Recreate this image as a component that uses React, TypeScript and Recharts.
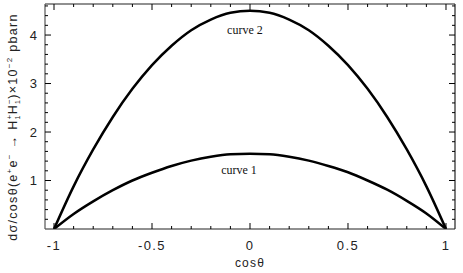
import React from 'react';
import { LineChart, Line, XAxis, YAxis, ReferenceDot } from 'recharts';

const cosTheta = [-1, -0.9, -0.8, -0.7, -0.6, -0.5, -0.4, -0.3, -0.2, -0.1, 0, 0.1, 0.2, 0.3, 0.4, 0.5, 0.6, 0.7, 0.8, 0.9, 1];
const curve1 = [0, 0.31, 0.57, 0.8, 1.0, 1.16, 1.3, 1.41, 1.49, 1.54, 1.55, 1.54, 1.49, 1.41, 1.3, 1.17, 1.0, 0.81, 0.58, 0.32, 0];
const curve2 = [0, 0.88, 1.64, 2.31, 2.89, 3.38, 3.78, 4.1, 4.32, 4.46, 4.5, 4.46, 4.32, 4.1, 3.78, 3.38, 2.89, 2.31, 1.64, 0.88, 0];

const xMajor = [-1, -0.5, 0, 0.5, 1];
const xTickLabels = ['-1', '-0.5', '0', '0.5', '1'];
const xTickValues = [-1, -0.9, -0.8, -0.7, -0.6, -0.5, -0.4, -0.3, -0.2, -0.1, 0, 0.1, 0.2, 0.3, 0.4, 0.5, 0.6, 0.7, 0.8, 0.9, 1];
const yMajor = [1, 2, 3, 4];
const yTickLabels = ['1', '2', '3', '4'];
const yTickValues = [0.2, 0.4, 0.6, 0.8, 1, 1.2, 1.4, 1.6, 1.8, 2, 2.2, 2.4, 2.6, 2.8, 3, 3.2, 3.4, 3.6, 3.8, 4, 4.2, 4.4, 4.6];

const curveLabels = ['curve 1', 'curve 2'];
const curveLabelX = [-0.056, -0.026];
const curveLabelY = [1.22, 4.1];

const data = cosTheta.map((c, i) => ({ c, curve1: curve1[i], curve2: curve2[i] }));

const majorIndex = (v: number, majors: number[]) => majors.findIndex((m) => Math.abs(m - v) < 1e-6);

const MAJOR = 6;
const MINOR = 3;
const tickFont = "'Liberation Sans', Arial, sans-serif";

const BottomTick = (props: any) => {
  const { x, y, payload } = props;
  const idx = majorIndex(payload.value, xMajor);
  const len = idx >= 0 ? MAJOR : MINOR;
  return (
    <g>
      <line x1={x} x2={x} y1={y} y2={y - len} stroke="#000" strokeWidth={1} />
      {idx >= 0 && (
        <text x={x} y={y + 21} textAnchor="middle" fontSize={13} fontFamily={tickFont} fill="#222" letterSpacing={1.4}>
          {xTickLabels[idx]}
        </text>
      )}
    </g>
  );
};

const TopTick = (props: any) => {
  const { x, y, payload } = props;
  const idx = majorIndex(payload.value, xMajor);
  const len = idx >= 0 ? MAJOR : MINOR;
  return <line x1={x} x2={x} y1={y} y2={y + len} stroke="#000" strokeWidth={1} />;
};

const LeftTick = (props: any) => {
  const { x, y, payload } = props;
  const idx = majorIndex(payload.value, yMajor);
  const len = idx >= 0 ? MAJOR : MINOR;
  return (
    <g>
      <line x1={x} x2={x + len} y1={y} y2={y} stroke="#000" strokeWidth={1} />
      {idx >= 0 && (
        <text x={x - 8} y={y + 4.5} textAnchor="end" fontSize={13} fontFamily={tickFont} fill="#222">
          {yTickLabels[idx]}
        </text>
      )}
    </g>
  );
};

const RightTick = (props: any) => {
  const { x, y, payload } = props;
  const idx = majorIndex(payload.value, yMajor);
  const len = idx >= 0 ? MAJOR : MINOR;
  return <line x1={x} x2={x - len} y1={y} y2={y} stroke="#000" strokeWidth={1} />;
};

const YLabel = () => {
  const cx = 17;
  const cy = 127;
  return (
    <text
      x={cx}
      y={cy}
      transform={`rotate(-90 ${cx} ${cy})`}
      textAnchor="middle"
      fontSize={12.5}
      fontFamily={tickFont}
      fill="#222"
      letterSpacing={1.3}
    >
      <tspan>dσ/cosθ(e</tspan>
      <tspan dy={-5} fontSize={8}>+</tspan>
      <tspan dy={5}>e</tspan>
      <tspan dy={-5} fontSize={8}>−</tspan>
      <tspan dy={5}> → H</tspan>
      <tspan dy={-5} fontSize={8}>+</tspan>
      <tspan dx={-6} dy={8} fontSize={7}>1</tspan>
      <tspan dy={-3}>H</tspan>
      <tspan dy={-5} fontSize={8}>−</tspan>
      <tspan dx={-6} dy={8} fontSize={7}>1</tspan>
      <tspan dy={-3}>)×10</tspan>
      <tspan dy={-5} fontSize={8}>−2</tspan>
      <tspan dy={5}> pbarn</tspan>
    </text>
  );
};

export default function App() {
  return (
    <div style={{ position: 'absolute', left: 0, top: 0, width: 463, height: 273, background: '#fff' }}>
      <LineChart width={463} height={273} data={data} margin={{ top: 0, right: 0, bottom: 0, left: 0 }}>
        <XAxis
          xAxisId="bottom"
          dataKey="c"
          type="number"
          domain={[-1.046, 1.046]}
          ticks={xTickValues}
          interval={0}
          orientation="bottom"
          height={44}
          tickSize={0}
          tickMargin={0}
          tickLine={false}
          tick={<BottomTick />}
          axisLine={{ stroke: '#222', strokeWidth: 1.2 }}
          allowDataOverflow
          label={{ value: 'cosθ', position: 'insideBottom', offset: 6, fontSize: 12, fontFamily: tickFont, fill: '#222', letterSpacing: 1.2 }}
        />
        <XAxis
          xAxisId="top"
          dataKey="c"
          type="number"
          domain={[-1.046, 1.046]}
          ticks={xTickValues}
          interval={0}
          orientation="top"
          height={4}
          tickSize={0}
          tickMargin={0}
          tickLine={false}
          tick={<TopTick />}
          axisLine={{ stroke: '#222', strokeWidth: 1.2 }}
          allowDataOverflow
        />
        <YAxis
          yAxisId="left"
          type="number"
          domain={[0, 4.64]}
          ticks={yTickValues}
          interval={0}
          orientation="left"
          width={45}
          tickSize={0}
          tickMargin={0}
          tickLine={false}
          tick={<LeftTick />}
          axisLine={{ stroke: '#555', strokeWidth: 1.2 }}
          allowDataOverflow
          label={<YLabel />}
        />
        <YAxis
          yAxisId="right"
          type="number"
          domain={[0, 4.64]}
          ticks={yTickValues}
          interval={0}
          orientation="right"
          width={8}
          tickSize={0}
          tickMargin={0}
          tickLine={false}
          tick={<RightTick />}
          axisLine={{ stroke: '#222', strokeWidth: 1.2 }}
          allowDataOverflow
        />
        <Line xAxisId="bottom" yAxisId="left" type="monotone" dataKey="curve1" stroke="#000" strokeWidth={2.5} dot={false} isAnimationActive={false} />
        <Line xAxisId="bottom" yAxisId="left" type="monotone" dataKey="curve2" stroke="#000" strokeWidth={2.5} dot={false} isAnimationActive={false} />
        {curveLabels.map((t, i) => (
          <ReferenceDot
            key={t}
            xAxisId="bottom"
            yAxisId="left"
            x={curveLabelX[i]}
            y={curveLabelY[i]}
            r={0}
            fill="none"
            stroke="none"
            label={{ value: t, position: 'center', fontSize: 12, fontFamily: "'Liberation Serif', 'Times New Roman', serif", fill: '#111' }}
          />
        ))}
      </LineChart>
    </div>
  );
}
